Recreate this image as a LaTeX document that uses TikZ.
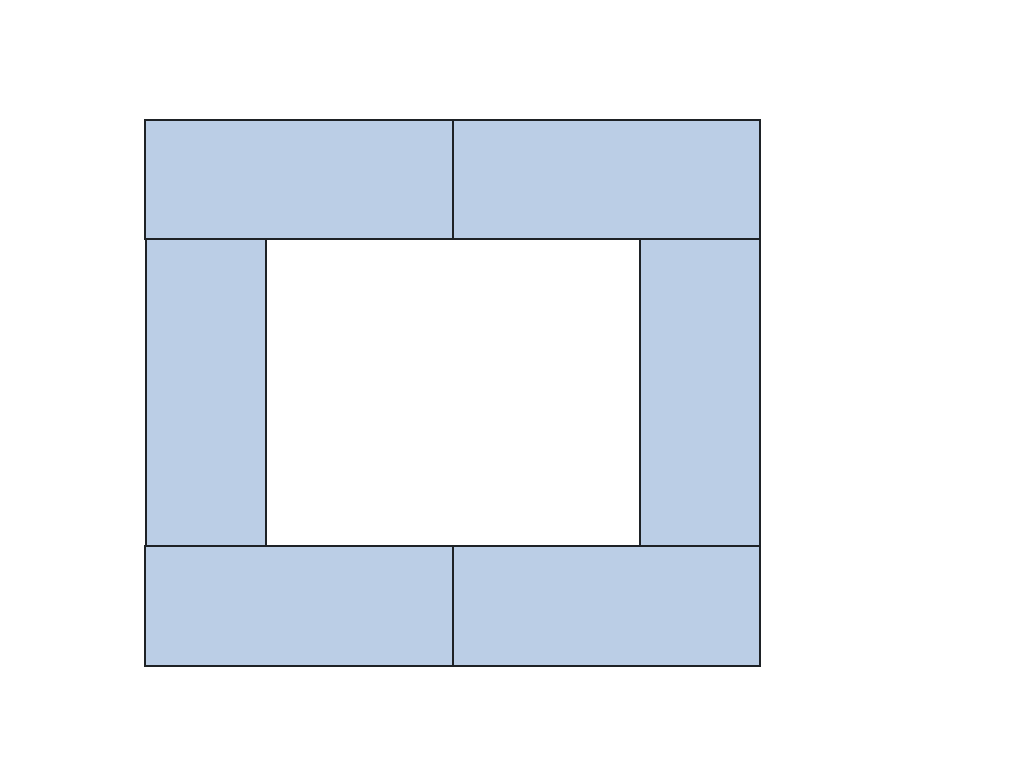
\documentclass[tikz,border=0pt]{standalone}
\usepackage{tikz}
\definecolor{panelblue}{HTML}{BBCEE6}
\definecolor{edgedark}{HTML}{1E2226}
\tikzset{panel/.style={fill=panelblue,draw=edgedark,line width=2.2pt,line join=miter}}
\begin{document}
\begin{tikzpicture}[x=0.75pt,y=-0.75pt]
\useasboundingbox (0,0) rectangle (1024,768);
\fill[white] (0,0) rectangle (1024,768);
\draw[panel] (145,120) rectangle (453,239);
\draw[panel] (453,120) rectangle (760,239);
\draw[panel] (146,239) rectangle (266,546);
\draw[panel] (640,239) rectangle (760,546);
\draw[panel] (145,546) rectangle (453,666);
\draw[panel] (453,546) rectangle (760,666);
\end{tikzpicture}
\end{document}
